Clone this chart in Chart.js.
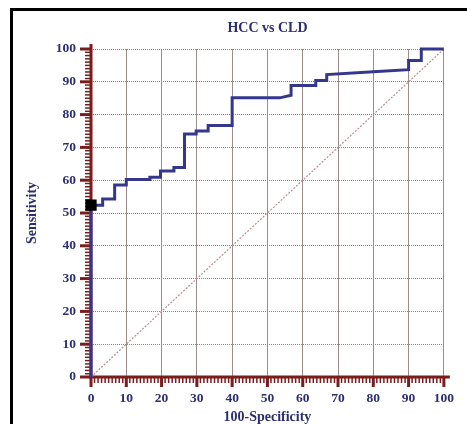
<!DOCTYPE html>
<html>
<head>
<meta charset="utf-8">
<script src="https://cdn.jsdelivr.net/npm/chart.js@4"></script>
<style>
  html, body { margin: 0; padding: 0; background: #ffffff; }
  canvas { display: block; }
</style>
</head>
<body>
<canvas id="rocChart" width="467" height="424"></canvas>
<script>
// ROC curve (100-Specificity vs Sensitivity)
const rocX = [0, 0, 3.3, 3.3, 6.7, 6.7, 10, 10, 16.7, 16.7, 19.7, 19.7, 23.5, 23.5, 26.5, 26.5,
  29.8, 29.8, 33.2, 33.2, 40, 40, 53.5, 56.7, 56.7, 63.7, 63.7, 66.8, 66.8, 80, 90, 90, 93.6, 93.6, 100];
const rocY = [0, 52.4, 52.4, 54.3, 54.3, 58.5, 58.5, 60.2, 60.2, 60.9, 60.9, 62.8, 62.8, 63.9, 63.9, 74.1,
  74.1, 75.0, 75.0, 76.7, 76.7, 85.1, 85.1, 85.9, 88.9, 88.9, 90.4, 90.4, 92.2, 93.1, 93.7, 96.5, 96.5, 100, 100];
const diagX = [0, 100];
const diagY = [0, 100];
const cutoffX = [0];
const cutoffY = [52.4];
const tickValues = [0, 10, 20, 30, 40, 50, 60, 70, 80, 90, 100];

const NAVY = "#2c2e6e";
const AXIS_COLOR = "#7a1d1d";
const ROC_COLOR = "#35378c";

function toPoints(xs, ys) {
  return xs.map((x, i) => ({ x: x, y: ys[i] }));
}

const frame = {
  id: "frame",
  beforeDraw(chart) {
    const ctx = chart.ctx;
    ctx.save();
    ctx.fillStyle = "#000000";
    ctx.fillRect(10, 8, 3, chart.height - 8);
    ctx.fillRect(10, 8, chart.width - 10, 3);
    ctx.restore();
  }
};

const axisTicks = {
  id: "axisTicks",
  beforeDatasetsDraw(chart) {
    const ctx = chart.ctx;
    const xs = chart.scales.x;
    const ys = chart.scales.y;
    const left = chart.chartArea.left;
    const bottom = chart.chartArea.bottom;
    ctx.save();
    ctx.strokeStyle = AXIS_COLOR;
    for (let v = 0; v <= 100; v++) {
      let major = v % 10 === 0;
      let len = major ? 11 : 6;
      ctx.lineWidth = major ? 3 : 1.5;
      let py = ys.getPixelForValue(v);
      ctx.beginPath();
      ctx.moveTo(left - len, py);
      ctx.lineTo(left, py);
      ctx.stroke();
      let px = xs.getPixelForValue(v);
      ctx.beginPath();
      ctx.moveTo(px, bottom);
      ctx.lineTo(px, bottom + (major ? 10 : 6));
      ctx.stroke();
    }
    ctx.lineWidth = 3;
    ctx.beginPath();
    ctx.moveTo(left, ys.getPixelForValue(100) - 5);
    ctx.lineTo(left, bottom);
    ctx.stroke();
    ctx.beginPath();
    ctx.moveTo(left - 2, bottom);
    ctx.lineTo(xs.getPixelForValue(100) + 6, bottom);
    ctx.stroke();
    ctx.restore();
  }
};

function createChart() {
  let ctx = document.getElementById("rocChart");
  new Chart(ctx, {
    type: "scatter",
    data: {
      datasets: [
        {
          label: "Cut-off",
          data: toPoints(cutoffX, cutoffY),
          pointStyle: "rect",
          pointRadius: 8,
          backgroundColor: "#000000",
          borderColor: "#000000",
          borderWidth: 0,
          clip: false
        },
        {
          label: "ROC",
          data: toPoints(rocX, rocY),
          showLine: true,
          borderColor: ROC_COLOR,
          borderWidth: 3,
          pointRadius: 0,
          tension: 0,
          clip: false
        },
        {
          label: "Reference",
          data: toPoints(diagX, diagY),
          showLine: true,
          borderColor: "#b88e8e",
          borderWidth: 1.2,
          borderDash: [2, 1.5],
          pointRadius: 0
        }
      ]
    },
    options: {
      responsive: false,
      animation: false,
      layout: { padding: { left: 0, right: 17, top: 0, bottom: 0 } },
      plugins: {
        legend: { display: false },
        tooltip: { enabled: false },
        title: {
          display: true,
          text: "HCC vs CLD",
          fullSize: false,
          color: NAVY,
          font: { family: "Liberation Serif", size: 14, weight: "bold", lineHeight: 1.2 },
          padding: { top: 19.6, bottom: 12.6 }
        }
      },
      scales: {
        x: {
          type: "linear",
          min: 0,
          max: 100,
          afterFit(scale) { scale.height = 47; },
          afterBuildTicks(scale) { scale.ticks = tickValues.map(v => ({ value: v })); },
          ticks: {
            color: NAVY,
            padding: 13,
            maxRotation: 0,
            autoSkip: false,
            font: { family: "Liberation Serif", size: 13.5, weight: "bold" }
          },
          grid: { color: "#9c8c8c", lineWidth: 1, drawTicks: false },
          border: { display: false },
          title: {
            display: true,
            text: "100-Specificity",
            color: NAVY,
            font: { family: "Liberation Serif", size: 14, weight: "bold", lineHeight: 1 },
            padding: { top: 0, bottom: 0 }
          }
        },
        y: {
          type: "linear",
          min: 0,
          max: 100,
          afterFit(scale) { scale.width = 91; },
          afterBuildTicks(scale) { scale.ticks = tickValues.map(v => ({ value: v })); },
          ticks: {
            color: NAVY,
            padding: 15,
            autoSkip: false,
            font: { family: "Liberation Serif", size: 13.5, weight: "bold" }
          },
          grid: { color: "#8e8484", lineWidth: 1, drawTicks: false },
          border: { display: false, dash: [1, 1] },
          title: {
            display: true,
            text: "Sensitivity",
            color: NAVY,
            font: { family: "Liberation Serif", size: 14, weight: "bold", lineHeight: 1.2 },
            padding: { top: 23.6, bottom: 0 }
          }
        }
      }
    },
    plugins: [frame, axisTicks]
  });
}

createChart();
</script>
</body>
</html>
